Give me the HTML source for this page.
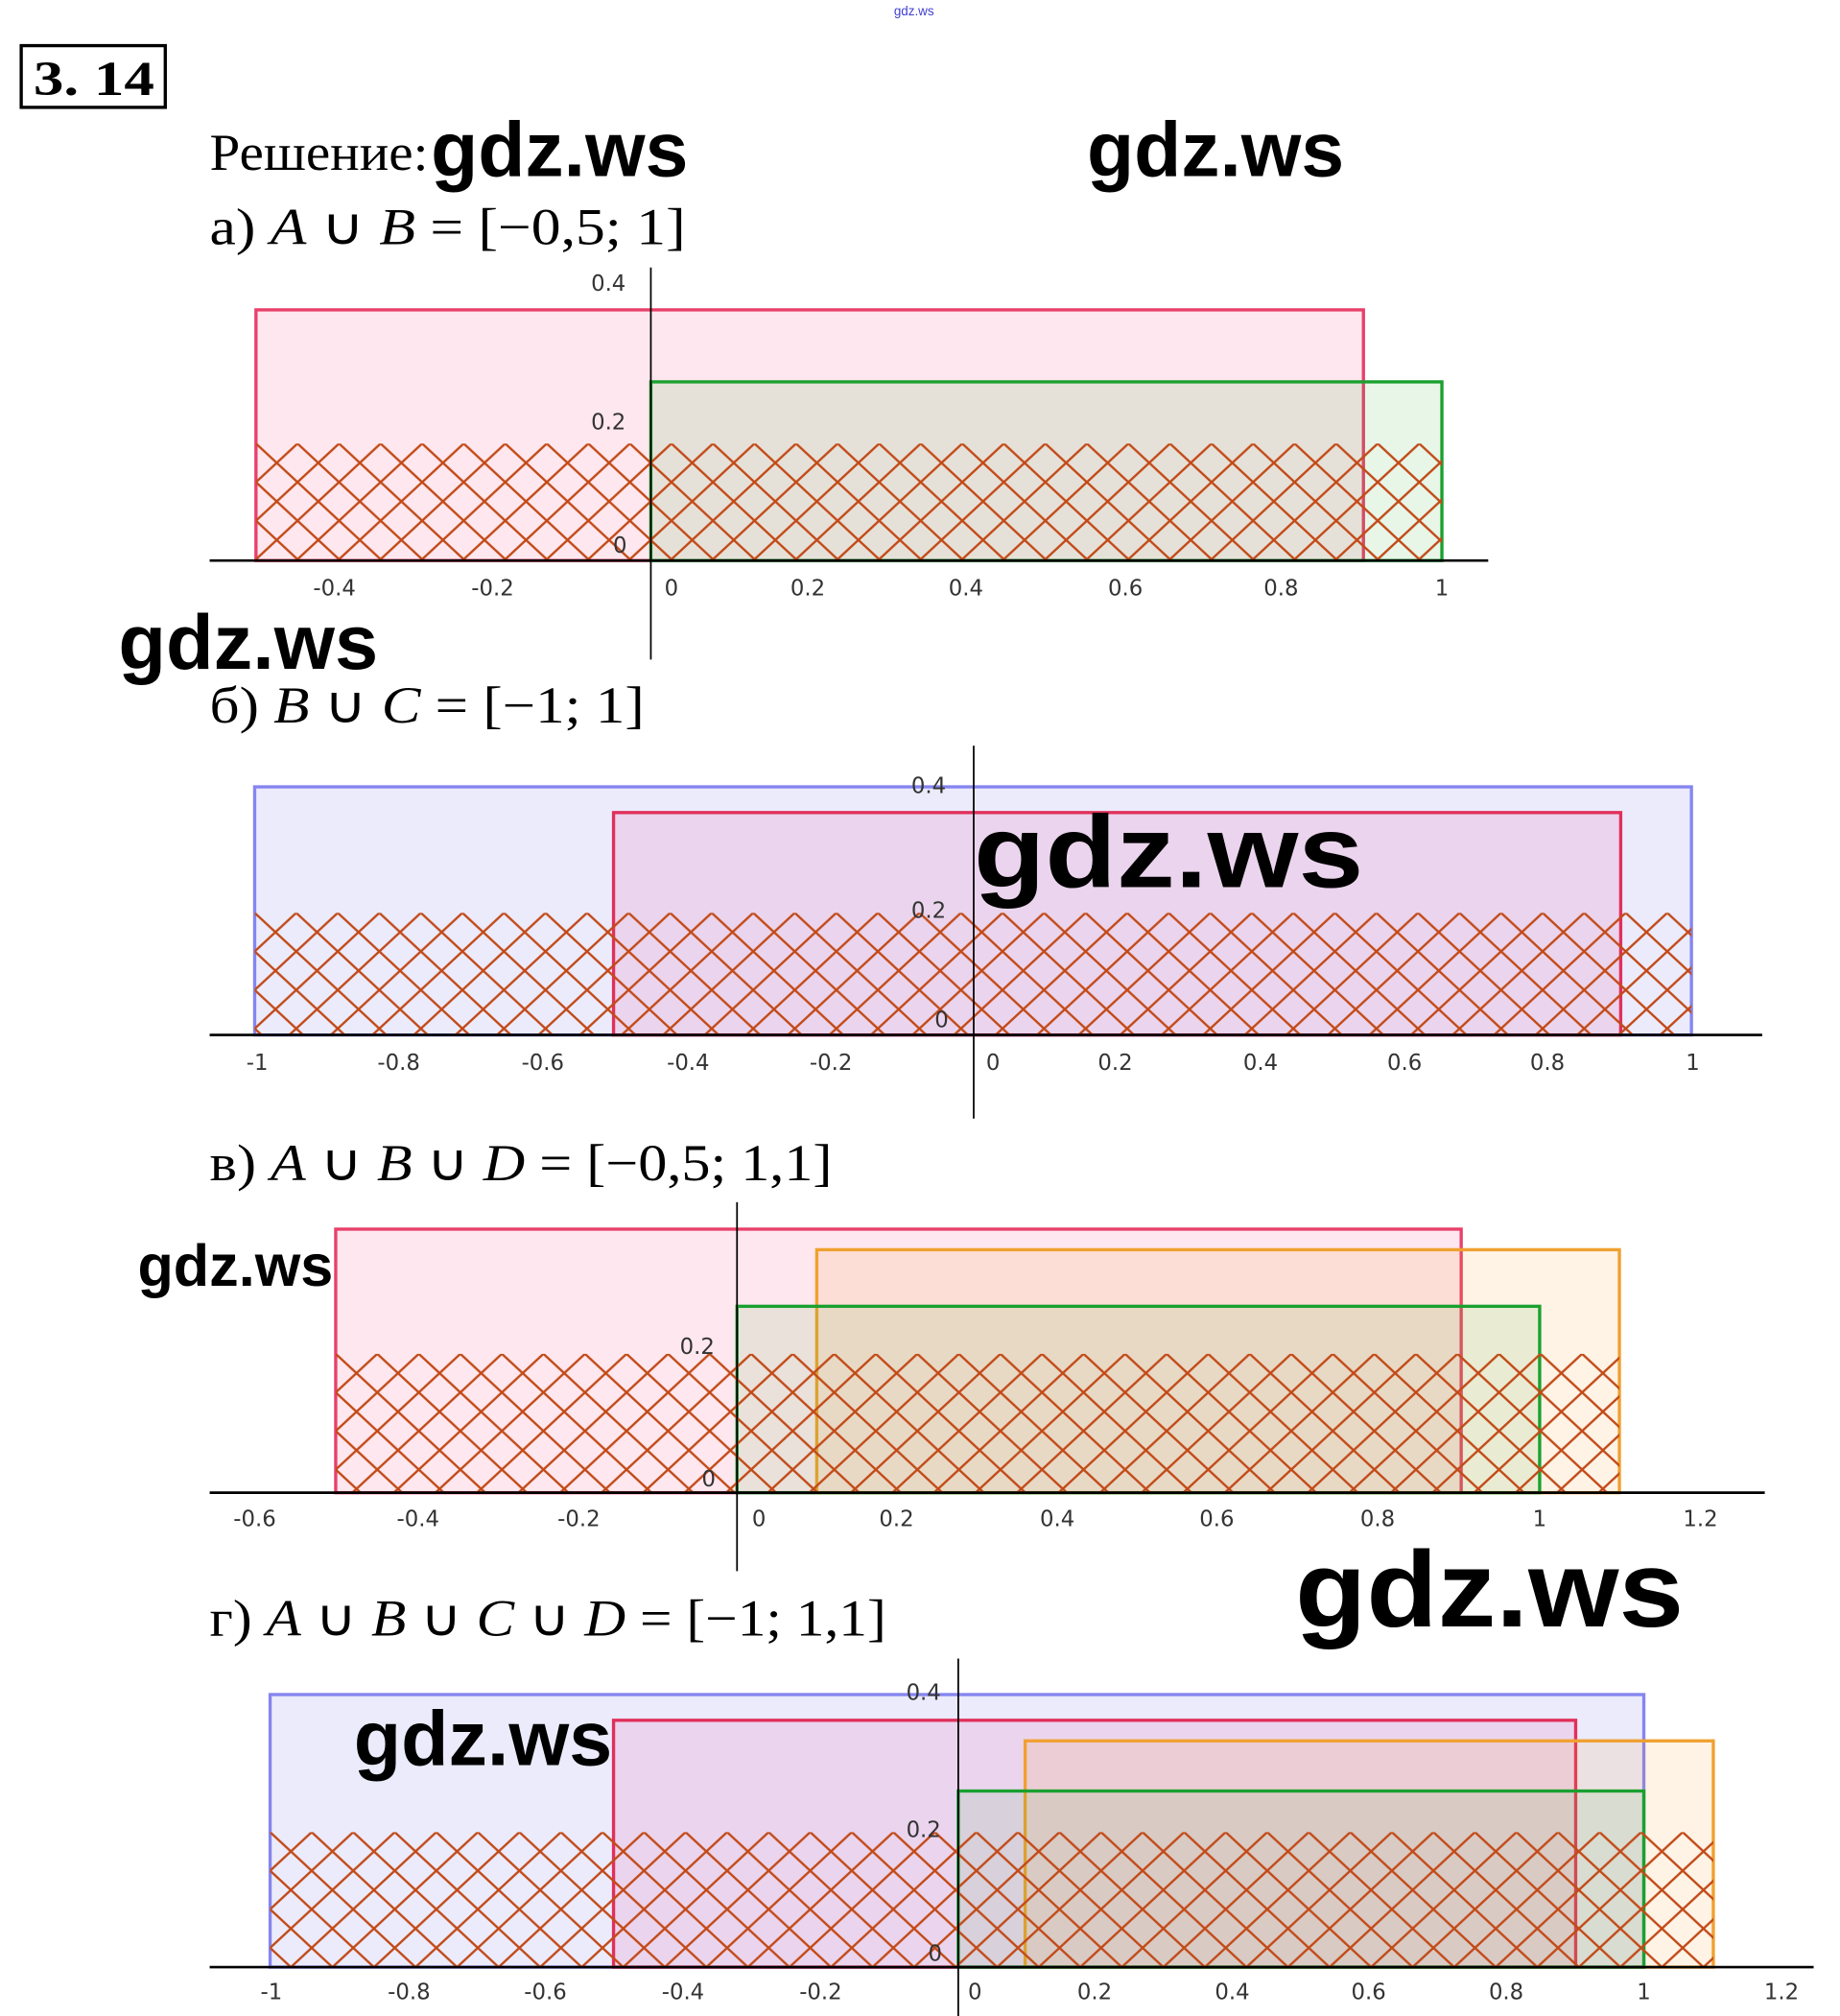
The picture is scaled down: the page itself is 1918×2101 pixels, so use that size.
<!DOCTYPE html>
<html><head><meta charset="utf-8"><style>
html,body{margin:0;padding:0;background:#fff;}
svg{display:block;}
.t{font-family:"Liberation Serif",serif;fill:#000;}
.w{font-family:"Liberation Sans",sans-serif;font-weight:bold;fill:#000;}
.l{font-family:"DejaVu Sans","Liberation Sans",sans-serif;font-size:17px;fill:#333;text-anchor:middle;}
</style></head><body>
<svg width="1918" height="2101" viewBox="0 0 1430.5 1568" preserveAspectRatio="none" xmlns="http://www.w3.org/2000/svg">
<defs>
<pattern id="ha" patternUnits="userSpaceOnUse" x="199" y="345" width="32.3" height="30"><path d="M0,0L32.3,30M32.3,0L0,30" stroke="#c24a18" stroke-width="1.8" fill="none"/></pattern>
<pattern id="hb" patternUnits="userSpaceOnUse" x="198" y="710" width="32.3" height="30"><path d="M0,0L32.3,30M32.3,0L0,30" stroke="#c24a18" stroke-width="1.8" fill="none"/></pattern>
<pattern id="hc" patternUnits="userSpaceOnUse" x="261" y="1053" width="32.3" height="30"><path d="M0,0L32.3,30M32.3,0L0,30" stroke="#c24a18" stroke-width="1.8" fill="none"/></pattern>
<pattern id="hd" patternUnits="userSpaceOnUse" x="210" y="1425" width="32.3" height="30"><path d="M0,0L32.3,30M32.3,0L0,30" stroke="#c24a18" stroke-width="1.8" fill="none"/></pattern>
</defs>

<text x="695" y="12" font-family="Liberation Sans,sans-serif" font-size="10" fill="#4040d0">gdz.ws</text>

<rect x="16.5" y="35.5" width="112" height="48" fill="none" stroke="#000" stroke-width="2.5"/>
<text class="t" x="26" y="74" font-size="38" font-weight="bold" textLength="94" lengthAdjust="spacingAndGlyphs">3. 14</text>

<text class="t" x="163" y="132" font-size="40" textLength="170" lengthAdjust="spacingAndGlyphs">Решение:</text>
<text class="w" x="335" y="137" font-size="60" textLength="200" lengthAdjust="spacingAndGlyphs">gdz.ws</text>
<text class="w" x="845" y="137" font-size="60" textLength="200" lengthAdjust="spacingAndGlyphs">gdz.ws</text>

<!-- a -->
<text class="t" x="163" y="190" font-size="40" textLength="370" lengthAdjust="spacingAndGlyphs">а) <tspan font-style="italic">A</tspan> ∪ <tspan font-style="italic">B</tspan> = [−0,5; 1]</text>
<rect x="199" y="241" width="861" height="195" fill="rgba(245,70,120,0.13)" stroke="#e8406a" stroke-width="2.5"/>
<rect x="506" y="297" width="615" height="139" fill="rgba(60,180,60,0.12)" stroke="#1aa030" stroke-width="2.5"/>
<rect x="199" y="345" width="922" height="91" fill="url(#ha)"/>
<line x1="163" y1="436" x2="1157" y2="436" stroke="#000" stroke-width="2"/>
<line x1="506" y1="208" x2="506" y2="513" stroke="#000" stroke-width="1.3"/>
<g class="l"><text x="260" y="463">-0.4</text><text x="383" y="463">-0.2</text><text x="522" y="463">0</text><text x="628" y="463">0.2</text><text x="751" y="463">0.4</text><text x="875" y="463">0.6</text><text x="996" y="463">0.8</text><text x="1121" y="463">1</text>
<text x="473" y="226">0.4</text><text x="473" y="334">0.2</text><text x="482" y="430">0</text></g>
<text class="w" x="92" y="520" font-size="60" textLength="202" lengthAdjust="spacingAndGlyphs">gdz.ws</text>

<!-- b -->
<text class="t" x="163" y="562" font-size="40" textLength="338" lengthAdjust="spacingAndGlyphs">б) <tspan font-style="italic">B</tspan> ∪ <tspan font-style="italic">C</tspan> = [−1; 1]</text>
<rect x="198" y="612" width="1117" height="193" fill="rgba(90,90,230,0.12)" stroke="#8585f0" stroke-width="2.5"/>
<rect x="477" y="632" width="783" height="173" fill="rgba(240,60,140,0.13)" stroke="#e0305a" stroke-width="2.5"/>
<rect x="198" y="710" width="1117" height="95" fill="url(#hb)"/>
<line x1="163" y1="805" x2="1370" y2="805" stroke="#000" stroke-width="2"/>
<line x1="757" y1="580" x2="757" y2="870" stroke="#000" stroke-width="1.3"/>
<g class="l"><text x="200" y="832">-1</text><text x="310" y="832">-0.8</text><text x="422" y="832">-0.6</text><text x="535" y="832">-0.4</text><text x="646" y="832">-0.2</text><text x="772" y="832">0</text><text x="867" y="832">0.2</text><text x="980" y="832">0.4</text><text x="1092" y="832">0.6</text><text x="1203" y="832">0.8</text><text x="1316" y="832">1</text>
<text x="722" y="617">0.4</text><text x="722" y="714">0.2</text><text x="732" y="799">0</text></g>
<text class="w" x="757" y="690" font-size="80" textLength="303" lengthAdjust="spacingAndGlyphs">gdz.ws</text>

<!-- c -->
<text class="t" x="163" y="918" font-size="40" textLength="484" lengthAdjust="spacingAndGlyphs">в) <tspan font-style="italic">A</tspan> ∪ <tspan font-style="italic">B</tspan> ∪ <tspan font-style="italic">D</tspan> = [−0,5; 1,1]</text>
<rect x="261" y="956" width="875" height="205" fill="rgba(245,70,120,0.13)" stroke="#e8406a" stroke-width="2.5"/>
<rect x="635" y="972" width="624" height="189" fill="rgba(250,160,40,0.12)" stroke="#f0a030" stroke-width="2.5"/>
<rect x="573" y="1016" width="624" height="145" fill="rgba(60,180,60,0.11)" stroke="#1aa030" stroke-width="2.5"/>
<rect x="261" y="1053" width="998" height="108" fill="url(#hc)"/>
<line x1="635" y1="1161" x2="1259" y2="1161" stroke="#f08020" stroke-width="2"/>
<line x1="163" y1="1161" x2="1372" y2="1161" stroke="#000" stroke-width="2"/>
<line x1="573" y1="935" x2="573" y2="1222" stroke="#000" stroke-width="1.3"/>
<g class="l"><text x="198" y="1187">-0.6</text><text x="325" y="1187">-0.4</text><text x="450" y="1187">-0.2</text><text x="590" y="1187">0</text><text x="697" y="1187">0.2</text><text x="822" y="1187">0.4</text><text x="946" y="1187">0.6</text><text x="1071" y="1187">0.8</text><text x="1197" y="1187">1</text><text x="1322" y="1187">1.2</text>
<text x="542" y="1053">0.2</text><text x="551" y="1156">0</text></g>
<text class="w" x="107" y="1000" font-size="46" textLength="152" lengthAdjust="spacingAndGlyphs">gdz.ws</text>
<text class="w" x="1007" y="1265" font-size="84" textLength="302" lengthAdjust="spacingAndGlyphs">gdz.ws</text>

<!-- d -->
<text class="t" x="163" y="1272" font-size="40" textLength="526" lengthAdjust="spacingAndGlyphs">г) <tspan font-style="italic">A</tspan> ∪ <tspan font-style="italic">B</tspan> ∪ <tspan font-style="italic">C</tspan> ∪ <tspan font-style="italic">D</tspan> = [−1; 1,1]</text>
<rect x="210" y="1318" width="1068" height="212" fill="rgba(90,90,230,0.12)" stroke="#8585f0" stroke-width="2.5"/>
<rect x="477" y="1338" width="748" height="192" fill="rgba(240,60,140,0.13)" stroke="#e0305a" stroke-width="2.5"/>
<rect x="797" y="1354" width="535" height="176" fill="rgba(250,160,40,0.12)" stroke="#f0a030" stroke-width="2.5"/>
<rect x="745" y="1393" width="533" height="137" fill="rgba(60,180,60,0.11)" stroke="#1aa030" stroke-width="2.5"/>
<rect x="210" y="1425" width="1122" height="105" fill="url(#hd)"/>
<line x1="163" y1="1530" x2="1410" y2="1530" stroke="#000" stroke-width="2"/>
<line x1="745" y1="1290" x2="745" y2="1568" stroke="#000" stroke-width="1.3"/>
<g class="l"><text x="211" y="1555">-1</text><text x="318" y="1555">-0.8</text><text x="424" y="1555">-0.6</text><text x="531" y="1555">-0.4</text><text x="638" y="1555">-0.2</text><text x="758" y="1555">0</text><text x="851" y="1555">0.2</text><text x="958" y="1555">0.4</text><text x="1064" y="1555">0.6</text><text x="1171" y="1555">0.8</text><text x="1278" y="1555">1</text><text x="1385" y="1555">1.2</text>
<text x="718" y="1322">0.4</text><text x="718" y="1429">0.2</text><text x="727" y="1525">0</text></g>
<text class="w" x="275" y="1373" font-size="60" textLength="201" lengthAdjust="spacingAndGlyphs">gdz.ws</text>
</svg>
</body></html>
